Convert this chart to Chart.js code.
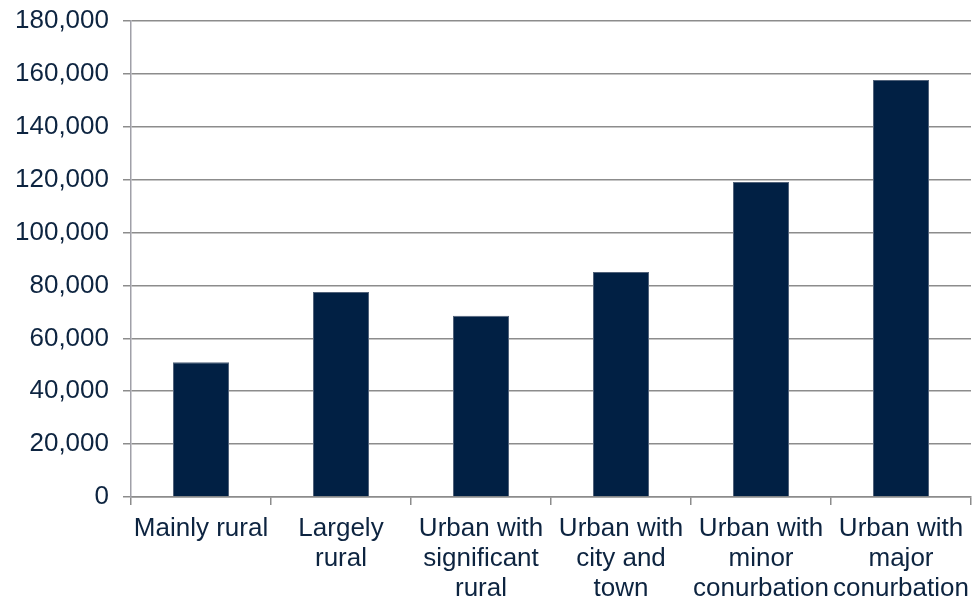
<!DOCTYPE html>
<html>
<head>
<meta charset="utf-8">
<script src="https://cdn.jsdelivr.net/npm/chart.js@4/dist/chart.umd.min.js"></script>
<style>
html,body{margin:0;padding:0;background:#fff;}
#wrap{width:976px;height:602px;position:relative;}
</style>
</head>
<body>
<div id="wrap"><canvas id="c" width="976" height="602"></canvas></div>
<script>
const categories = [
  ["Mainly rural"],
  ["Largely", "rural"],
  ["Urban with", "significant", "rural"],
  ["Urban with", "city and", "town"],
  ["Urban with", "minor", "conurbation"],
  ["Urban with", "major", "conurbation"]
];
const values = [51000, 77500, 68500, 85100, 119100, 157700];
const yMin = 0, yMax = 180000, yStep = 20000;

const textColor = '#0d2440';
const gridColor = '#8c8c8c';

new Chart(document.getElementById('c'), {
  type: 'bar',
  data: {
    labels: categories,
    datasets: [{
      data: values,
      backgroundColor: '#012044',
      borderColor: '#51627a',
      borderWidth: 1,
      barPercentage: 0.4,
      categoryPercentage: 1.0
    }]
  },
  options: {
    responsive: false,
    animation: false,
    devicePixelRatio: 1,
    layout: { padding: { top: 21, right: 5, left: 0, bottom: 0 } },
    plugins: { legend: { display: false }, tooltip: { enabled: false } },
    scales: {
      x: {
        offset: true,
        grid: { display: true, drawOnChartArea: false, offset: true, color: gridColor, lineWidth: 1.5, tickLength: 8 },
        border: { display: true, color: gridColor, width: 1.5 },
        ticks: {
          color: textColor, font: { family: 'Liberation Sans, Arial, sans-serif', size: 26, lineHeight: 1.15 },
          padding: 9, maxRotation: 0, autoSkip: false
        },
        afterFit: s => { s.height = 105; s.paddingLeft = 0; s.paddingRight = 0; }
      },
      y: {
        min: yMin, max: yMax,
        grid: { color: gridColor, lineWidth: 1.5, tickLength: 8 },
        border: { display: true, color: '#a0a0a8', width: 1.5 },
        ticks: {
          stepSize: yStep,
          color: textColor, font: { family: 'Liberation Sans, Arial, sans-serif', size: 26 },
          padding: 14,
          callback: v => v.toLocaleString('en-US')
        },
        afterFit: s => { s.width = 131; s.paddingTop = 0; s.paddingBottom = 0; }
      }
    }
  }
});
</script>
</body>
</html>
